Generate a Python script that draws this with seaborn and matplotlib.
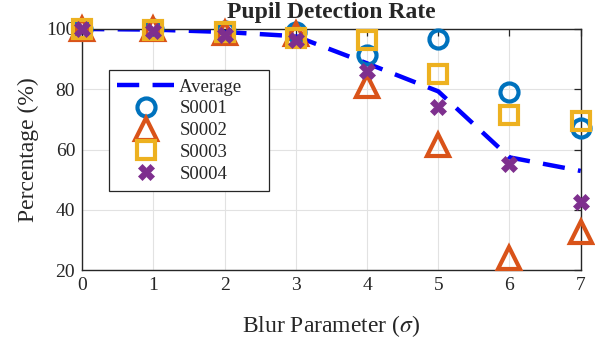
import matplotlib
matplotlib.use("Agg")
import matplotlib.pyplot as plt
import seaborn as sns

blur = [0, 1, 2, 3, 4, 5, 6, 7]
average = [100, 99.8, 99.0, 97.6, 88.6, 79.3, 57.4, 52.9]
s0001 = [100, 100, 99.2, 99.0, 91.4, 96.8, 79.2, 67.2]
s0002 = [100, 100, 98.6, 98.2, 81.2, 61.4, 24.0, 32.6]
s0003 = [100, 99.8, 99.0, 97.0, 96.2, 85.0, 71.6, 69.6]
s0004 = [100, 99.4, 98.0, 96.2, 86.0, 74.0, 55.2, 42.6]

sns.set_theme(style="whitegrid")
plt.rcParams["font.family"] = ["Liberation Serif", "DejaVu Serif"]
plt.rcParams["mathtext.fontset"] = "stix"

fig = plt.figure(figsize=(5.95, 3.41), dpi=100)
ax = fig.add_axes([0.138, 0.208, 0.838, 0.707])

sns.lineplot(x=blur, y=average, ax=ax, color="#0000FF", linewidth=3.2,
             linestyle=(0, (5, 3)), label="Average    ", zorder=2)

series = [
    ("S0001", s0001, "o", "#0072BD", 13),
    ("S0002", s0002, "^", "#D95319", 16),
    ("S0003", s0003, "s", "#EDB120", 12.5),
]
for name, vals, mk, col, ms in series:
    sns.lineplot(x=blur, y=vals, ax=ax, linestyle="", marker=mk,
                 markersize=ms, markerfacecolor="none", markeredgecolor=col,
                 markeredgewidth=3, color=col, label=name, clip_on=False,
                 zorder=3)
sns.lineplot(x=blur, y=s0004, ax=ax, linestyle="", marker="X",
             markersize=12, markerfacecolor="#7E2F8E",
             markeredgecolor="#7E2F8E", markeredgewidth=0.5,
             color="#7E2F8E", label="S0004", clip_on=False, zorder=4)

ax.set_xlim(0, 7)
ax.set_ylim(20, 100)
ax.set_xticks(blur)
ax.set_yticks([20, 40, 60, 80, 100])
ax.grid(True, color="#e2e2e2", linewidth=0.8)
for sp in ax.spines.values():
    sp.set_color("#262626")
    sp.set_linewidth(1.0)
ax.tick_params(direction="in", length=5, width=0.9, color="#262626",
               labelsize=14, top=True, right=True, pad=5, labelcolor="#262626")
ax.set_title("Pupil Detection Rate", fontsize=17, fontweight="bold", pad=8)
ax.set_xlabel(r"Blur Parameter ($\sigma$)", fontsize=17, labelpad=14)
ax.set_ylabel("Percentage (%)", fontsize=17, labelpad=5)

leg = ax.legend(loc="upper left", bbox_to_anchor=(0.054, 0.83), fontsize=13.5,
                frameon=True, fancybox=False, edgecolor="#262626",
                framealpha=1, handlelength=3.0, borderpad=0.45,
                borderaxespad=0, labelspacing=0.25, handletextpad=0.3)
leg.get_frame().set_linewidth(0.9)

fig.savefig("out.png", dpi=100)
